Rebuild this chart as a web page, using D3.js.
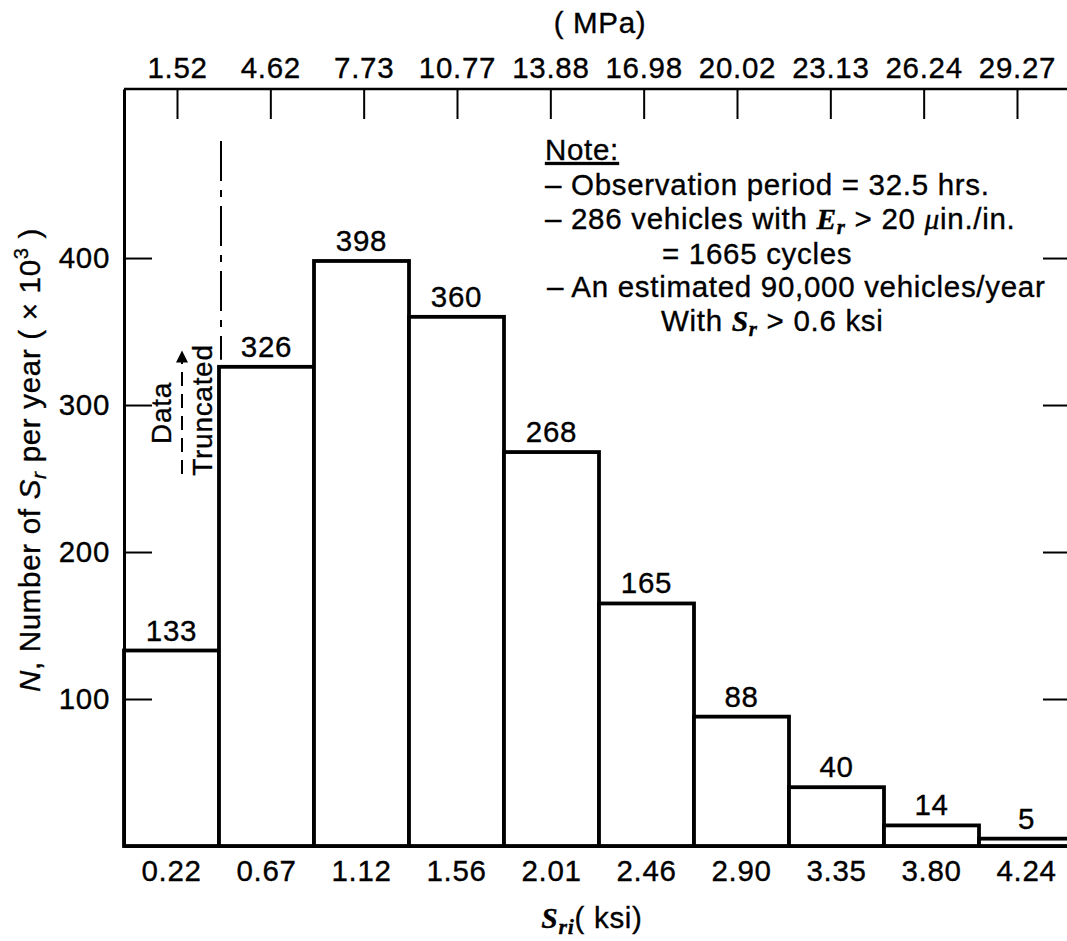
<!DOCTYPE html>
<html>
<head>
<meta charset="utf-8">
<script src="https://cdn.jsdelivr.net/npm/d3@7"></script>
<style>
  body { margin: 0; background: #fff; }
  svg { display: block; }
  text { font-family: "Liberation Sans", Arial, Helvetica, sans-serif; fill: #000; stroke: #000; stroke-width: 0.35px; letter-spacing: 0.7px; }
</style>
</head>
<body>
<div id="chart"></div>
<script>
// stress range bins (ksi) and their MPa equivalents
const ksiLabels = ['0.22', '0.67', '1.12', '1.56', '2.01', '2.46', '2.90', '3.35', '3.80', '4.24'];
const mpaLabels = ['1.52', '4.62', '7.73', '10.77', '13.88', '16.98', '20.02', '23.13', '26.24', '29.27'];
// number of stress cycles per year (x 10^3)
const counts = [133, 326, 398, 360, 268, 165, 88, 40, 14, 5];
const yTicks = [100, 200, 300, 400];

// note lines, split into plain / italic / subscript pieces
const noteLines = [
    [{ t: '– Observation period = 32.5 hrs.' }],
    [{ t: '– 286 vehicles with ' }, { t: 'E', it: true }, { t: 'r', sub: true, it: true }, { t: ' > 20 ' }, { t: 'μ', it: true }, { t: 'in./in.' }],
    [{ t: '= 1665 cycles' }],
    [{ t: '– An estimated 90,000 vehicles/year' }],
    [{ t: 'With ' }, { t: 'S', it: true }, { t: 'r', sub: true, it: true }, { t: ' > 0.6 ksi' }]
];
const noteX = [545, 545, 662, 547, 661];
const noteY = [195, 229, 264, 297, 331];

const width = 1067;
const height = 941;
const fs = 29.5;
const sans = '"Liberation Sans", Arial, sans-serif';
const serif = '"Liberation Serif", "Times New Roman", serif';

const svg = d3.select('#chart')
    .append('svg')
    .attr('width', width)
    .attr('height', height);

const x = d3.scaleBand()
    .domain(ksiLabels)
    .range([124, 124 + 95 * ksiLabels.length])
    .padding(0);

const xTop = d3.scalePoint()
    .domain(mpaLabels)
    .range([177, 1017]);

const y = d3.scaleLinear()
    .domain([0, 515])
    .range([846, 89]);

// bars
svg.append('g')
    .selectAll('rect')
    .data(counts)
    .join('rect')
    .attr('x', (d, i) => x(ksiLabels[i]))
    .attr('y', (d) => y(d))
    .attr('width', x.bandwidth())
    .attr('height', (d) => y(0) - y(d))
    .style('fill', '#fff')
    .style('stroke', '#000')
    .style('stroke-width', 3.8);

// bar value labels
svg.append('g')
    .selectAll('text')
    .data(counts)
    .join('text')
    .attr('x', (d, i) => x(ksiLabels[i]) + x.bandwidth() / 2)
    .attr('y', (d) => y(d) - 10)
    .attr('text-anchor', 'middle')
    .style('font-size', fs + 'px')
    .text((d) => d);

// left axis
const leftAxis = svg.append('g')
    .attr('transform', `translate(124,0)`)
    .call(d3.axisLeft(y).tickValues(yTicks).tickSizeInner(-28).tickSizeOuter(0).tickPadding(14));
leftAxis.select('.domain').style('stroke-width', 3);
leftAxis.selectAll('line').style('stroke-width', 2);
leftAxis.selectAll('text').style('font-size', fs + 'px').style('font-family', sans);

// right ticks (frame edge is cut off)
const rightAxis = svg.append('g')
    .attr('transform', `translate(1067,0)`)
    .call(d3.axisRight(y).tickValues(yTicks).tickSizeInner(-24).tickSizeOuter(0).tickFormat(''));
rightAxis.select('.domain').remove();
rightAxis.selectAll('line').style('stroke-width', 2);

// bottom axis
const bottomAxis = svg.append('g')
    .attr('transform', `translate(0,${y(0)})`)
    .call(d3.axisBottom(x).tickSize(0).tickPadding(14));
bottomAxis.select('.domain').style('stroke-width', 3);
bottomAxis.selectAll('text').style('font-size', fs + 'px').style('font-family', sans);

// top axis (MPa)
svg.append('line')
    .attr('x1', 124).attr('x2', width)
    .attr('y1', y.range()[1]).attr('y2', y.range()[1])
    .style('stroke', '#000')
    .style('stroke-width', 2.5);
const topAxis = svg.append('g')
    .attr('transform', `translate(0,${y.range()[1]})`)
    .call(d3.axisTop(xTop).tickSizeInner(-30).tickSizeOuter(0).tickPadding(11));
topAxis.select('.domain').remove();
topAxis.selectAll('line').style('stroke-width', 2);
topAxis.selectAll('text').style('font-size', fs + 'px').style('font-family', sans);

svg.append('text')
    .attr('x', 600)
    .attr('y', 33)
    .attr('text-anchor', 'middle')
    .style('font-size', fs + 'px')
    .text('( MPa)');

// x axis title
const xt = svg.append('text')
    .attr('x', 592)
    .attr('y', 928)
    .attr('text-anchor', 'middle')
    .style('font-size', fs + 'px');
xt.append('tspan')
    .style('font-family', serif)
    .style('font-style', 'italic').style('font-weight', 'bold')
    .text('S');
xt.append('tspan')
    .attr('dy', 6)
    .style('font-family', serif)
    .style('font-style', 'italic').style('font-weight', 'bold')
    .style('font-size', '22px')
    .text('ri');
xt.append('tspan').attr('dy', -6).text('( ksi)');

// y axis title
const yt = svg.append('text')
    .attr('transform', 'translate(40,460) rotate(-90)')
    .attr('text-anchor', 'middle')
    .style('font-size', fs + 'px');
yt.append('tspan').style('font-style', 'italic').text('N');
yt.append('tspan').text(', Number of ');
yt.append('tspan').style('font-style', 'italic').text('S');
yt.append('tspan').attr('dy', 6).style('font-style', 'italic').style('font-size', '21px').text('r');
yt.append('tspan').attr('dy', -6).text(' per year ( × 10');
yt.append('tspan').attr('dy', -12).style('font-size', '20px').text('3');
yt.append('tspan').attr('dy', 12).text(' )');

// data truncated marker
const cut = x(ksiLabels[1]) + 2;
svg.append('line')
    .attr('x1', cut).attr('x2', cut)
    .attr('y1', 141).attr('y2', y(counts[1]) - 7)
    .style('stroke', '#000')
    .style('stroke-width', 2)
    .style('stroke-dasharray', '40,9,7,9');

svg.append('defs')
    .append('marker')
    .attr('id', 'arrow')
    .attr('viewBox', '0 0 10 10')
    .attr('refX', 2).attr('refY', 5)
    .attr('markerWidth', 8).attr('markerHeight', 6)
    .attr('markerUnits', 'strokeWidth')
    .attr('orient', 'auto')
    .append('path')
    .attr('d', 'M0,0 L10,5 L0,10 Z')
    .style('fill', '#000');

svg.append('line')
    .attr('x1', 182).attr('x2', 182)
    .attr('y1', 474).attr('y2', 360)
    .style('stroke', '#000')
    .style('stroke-width', 2)
    .style('stroke-dasharray', '14,8')
    .attr('marker-end', 'url(#arrow)');

svg.append('text')
    .attr('transform', 'translate(171,413) rotate(-90)')
    .attr('text-anchor', 'middle')
    .style('font-size', '28px')
    .text('Data');
svg.append('text')
    .attr('transform', 'translate(212,410) rotate(-90)')
    .attr('text-anchor', 'middle')
    .style('font-size', '28px')
    .text('Truncated');

// note block
svg.append('text')
    .attr('x', 545)
    .attr('y', 160)
    .style('font-size', fs + 'px')
    .style('text-decoration', 'underline')
    .text('Note:');

noteLines.forEach((parts, i) => {
    const t = svg.append('text')
        .attr('x', noteX[i])
        .attr('y', noteY[i])
        .style('font-size', fs + 'px');
    let shifted = false;
    parts.forEach((p) => {
        const s = t.append('tspan').text(p.t);
        if (p.it) {
            s.style('font-family', serif)
                .style('font-style', 'italic')
                .style('font-weight', p.t === 'μ' ? 'normal' : 'bold');
        }
        if (p.sub) {
            s.attr('dy', 5).style('font-size', '21px');
            shifted = true;
        } else if (shifted) {
            s.attr('dy', -5);
            shifted = false;
        }
    });
});
</script>
</body>
</html>
